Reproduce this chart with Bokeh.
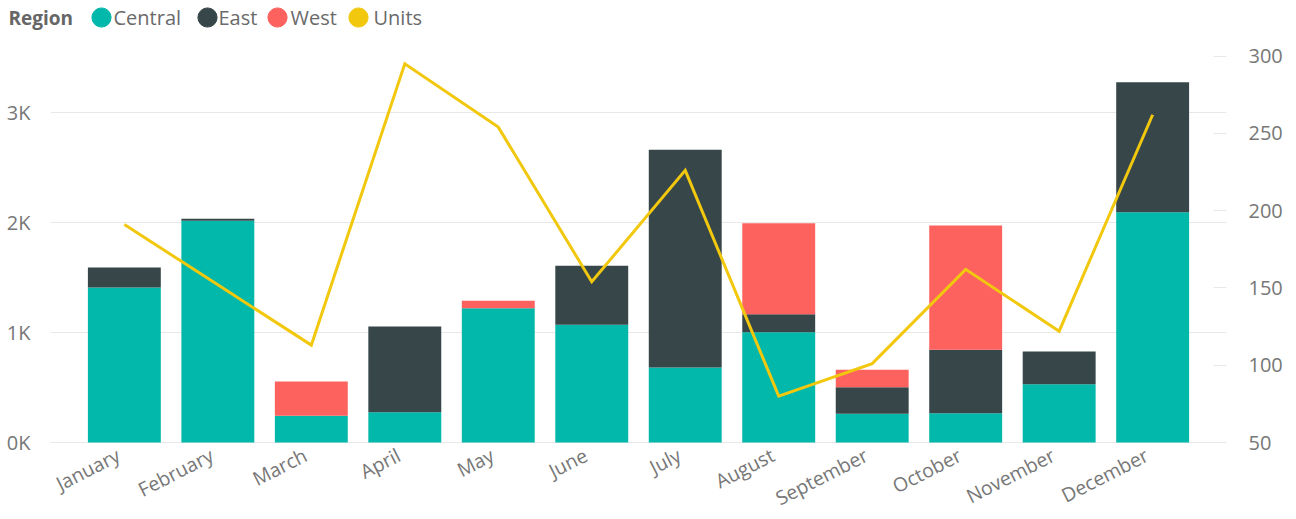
import math
from bokeh.plotting import figure
from bokeh.models import (ColumnDataSource, FactorRange, Range1d, LinearAxis, FixedTicker,
                          Legend, LegendItem, Label)
from bokeh.core.properties import value
from bokeh.embed import file_html
from bokeh.resources import INLINE

# ---------------- data ----------------
months = ["January", "February", "March", "April", "May", "June", "July",
          "August", "September", "October", "November", "December"]
central = [1409, 2015, 243, 276, 1221, 1070, 682, 1003, 261, 267, 530, 2094]
east = [182, 18, 0, 779, 0, 536, 1979, 163, 242, 576, 297, 1181]
west = [0, 0, 312, 0, 67, 0, 0, 828, 158, 1130, 0, 0]
units = [191, 152, 113, 295, 254, 154, 226, 80, 101, 162, 122, 262]

left_ticks = [0, 1000, 2000, 3000]
left_tick_labels = ["0K", "1K", "2K", "3K"]
right_ticks = [50, 100, 150, 200, 250, 300]

series = ["Central", "East", "West"]
series_colors = ["#01B8AA", "#374649", "#FD625E"]
units_label = "Units"
units_color = "#F2C80F"
legend_title = "Region"

# ---------------- layout ----------------
W = 1296
BL, BR = 50, 70           # left / right borders (frame spans 50..1226)
LEG_H = 34
H = 519 - LEG_H
ZERO_Y = 442 - LEG_H      # px from top of chart figure where 0K / 50 sit
PX_PER_K = 110.0
PX_PER_UNIT = 1.546
FONT = "Open Sans"
TXT = "#777777"
GRID = "#e8e8e8"
LEG_TXT = "#6a6a6a"
# legend strip positions (px): marker centres and text starts
LEG_MARK_X = [101, 207, 277, 358]
LEG_TEXT_X = [113, 218, 290, 373]
LEG_CY = 17
MARK = 48                 # legend glyph box -> marker diameter 0.4 * MARK

left_end = ZERO_Y / PX_PER_K * 1000
left_start = -(H - ZERO_Y) / PX_PER_K * 1000
right_end = 50 + ZERO_Y / PX_PER_UNIT
right_start = 50 - (H - ZERO_Y) / PX_PER_UNIT

source = ColumnDataSource(dict(month=months, Central=central, East=east, West=west, units=units))

# ---------------- legend strip ----------------
lg = figure(width=W, height=LEG_H, output_backend="svg", toolbar_location=None,
            x_range=Range1d(0, 1), y_range=Range1d(0, 1),
            x_axis_location=None, y_axis_location=None,
            min_border_left=0, min_border_right=0, min_border_top=0, min_border_bottom=0)
lg.outline_line_color = None
lg.xgrid.visible = False
lg.ygrid.visible = False

lg.add_layout(Label(x=8, y=LEG_H - LEG_CY, x_units="screen", y_units="screen", text=legend_title,
                    text_font=FONT, text_font_size="19px", text_font_style="bold",
                    text_color="#666666", text_baseline="middle", text_align="left"))

for name, col, mx, tx in zip(series + [units_label], series_colors + [units_color],
                             LEG_MARK_X, LEG_TEXT_X):
    r = lg.scatter(x=[0], y=[float("nan")], size=19, marker="circle", fill_color=col, line_color=col)
    lg.add_layout(Legend(items=[LegendItem(label=" ", renderers=[r])],
                         location=(mx - MARK / 2, LEG_H - LEG_CY - MARK / 2),
                         glyph_width=MARK, glyph_height=MARK, label_standoff=0, label_width=0,
                         spacing=0, padding=0, margin=0, border_line_color=None,
                         background_fill_alpha=0, label_text_font_size="1px"))
    lg.add_layout(Label(x=tx, y=LEG_H - LEG_CY, x_units="screen", y_units="screen", text=name,
                        text_font=FONT, text_font_size="20px", text_color=LEG_TXT,
                        text_baseline="middle", text_align="left"))

# ---------------- chart ----------------
p = figure(x_range=FactorRange(factors=months, range_padding=0.29, range_padding_units="absolute"),
           y_range=Range1d(left_start, left_end),
           width=W, height=H, output_backend="svg", toolbar_location=None,
           x_axis_location=None,
           min_border_left=BL, min_border_right=BR, min_border_top=0, min_border_bottom=0)
p.extra_y_ranges = {"units": Range1d(right_start, right_end)}
p.outline_line_color = None
p.background_fill_color = "white"
p.xgrid.grid_line_color = None

ya = p.yaxis[0]
ya.ticker = FixedTicker(ticks=left_ticks)
ya.major_label_overrides = {t: l for t, l in zip(left_ticks, left_tick_labels)}
ya.axis_line_color = None
ya.major_tick_line_color = None
ya.minor_tick_line_color = None
ya.major_tick_out = 0
ya.major_tick_in = 0
ya.major_label_standoff = 20
ya.major_label_text_font = FONT
ya.major_label_text_font_size = "20px"
ya.major_label_text_color = TXT
p.ygrid.ticker = FixedTicker(ticks=left_ticks)
p.ygrid.grid_line_color = GRID

ra = LinearAxis(y_range_name="units", ticker=FixedTicker(ticks=right_ticks))
ra.axis_line_color = None
ra.minor_tick_line_color = None
ra.major_tick_line_color = GRID
ra.major_tick_in = 13
ra.major_tick_out = 0
ra.major_label_standoff = 22
ra.major_label_text_font = FONT
ra.major_label_text_font_size = "20px"
ra.major_label_text_color = TXT
p.add_layout(ra, "right")

p.vbar_stack(series, x="month", width=0.78, source=source,
             fill_color=series_colors, line_color=None)

p.line(x="month", y="units", source=source, y_range_name="units",
       line_color=units_color, line_width=3, line_join="miter")

p.text(x="month", y=0, text="month", source=source,
       angle=math.radians(27), text_align="right", text_baseline="middle",
       x_offset=-6, y_offset=11,
       text_font=value(FONT), text_font_size="19.5px", text_color=TXT)

open("out.html", "w").write(file_html([lg, p], INLINE))
